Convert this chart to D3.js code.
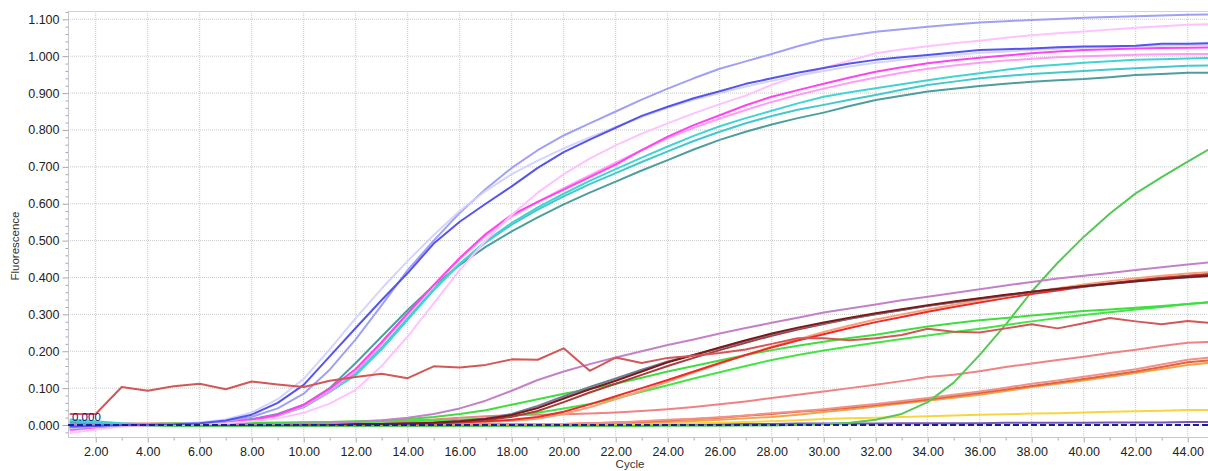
<!DOCTYPE html>
<html>
<head>
<meta charset="utf-8">
<script src="https://cdn.jsdelivr.net/npm/d3@7"></script>
<style>
  html, body { margin: 0; padding: 0; background: #fff; }
  svg { display: block; }
  .tick text { font-family: "Liberation Sans", Arial, sans-serif; }
</style>
</head>
<body>
<svg id="chart" width="1208" height="471"></svg>
<script>
// ---------------- DATA ----------------
const cycles = [1,2,3,4,5,6,7,8,9,10,11,12,13,14,15,16,17,18,19,20,21,22,23,24,25,26,27,28,29,30,31,32,33,34,35,36,37,38,39,40,41,42,43,44,45];

const yTicks = [0.0,0.1,0.2,0.3,0.4,0.5,0.6,0.7,0.8,0.9,1.0,1.1];
const xTicks = [2,4,6,8,10,12,14,16,18,20,22,24,26,28,30,32,34,36,38,40,42,44];
const xMinorTicks = [3,5,7,9,11,13,15,17,19,21,23,25,27,29,31,33,35,37,39,41,43,45];
const thresholdValue = 0.0;

// high plateau group
const lavender = [-0.010,-0.005,-0.001,0.000,0.002,0.005,0.010,0.022,0.045,0.085,0.150,0.232,0.325,0.420,0.500,0.575,0.640,0.697,0.745,0.785,0.818,0.850,0.882,0.912,0.940,0.966,0.986,1.006,1.027,1.045,1.056,1.066,1.073,1.080,1.086,1.091,1.095,1.098,1.101,1.104,1.106,1.108,1.110,1.112,1.113];
const paleLavender = [-0.008,-0.004,0.000,0.001,0.003,0.007,0.015,0.034,0.070,0.125,0.205,0.290,0.370,0.445,0.515,0.580,0.635,0.680,0.717,0.750,0.780,0.808,0.835,0.860,0.882,0.900,0.918,0.933,0.947,0.960,0.972,0.982,0.990,0.997,1.003,1.009,1.013,1.017,1.020,1.023,1.025,1.027,1.028,1.030,1.030];
const blue = [-0.005,-0.003,0.000,0.001,0.002,0.005,0.012,0.028,0.060,0.109,0.186,0.263,0.339,0.412,0.492,0.551,0.600,0.647,0.697,0.740,0.774,0.806,0.838,0.863,0.886,0.905,0.925,0.940,0.955,0.968,0.980,0.990,0.997,1.003,1.010,1.017,1.019,1.021,1.024,1.026,1.027,1.028,1.034,1.034,1.035];
const palePink = [-0.022,-0.012,-0.004,-0.001,0.000,0.002,0.005,0.010,0.018,0.033,0.058,0.095,0.160,0.240,0.330,0.420,0.500,0.570,0.630,0.680,0.722,0.758,0.790,0.818,0.845,0.870,0.893,0.922,0.946,0.968,0.988,1.008,1.018,1.027,1.035,1.042,1.050,1.057,1.062,1.067,1.072,1.077,1.081,1.085,1.087];
const magenta = [-0.012,-0.006,-0.002,0.000,0.001,0.003,0.007,0.014,0.028,0.055,0.098,0.152,0.225,0.303,0.380,0.453,0.518,0.570,0.605,0.638,0.672,0.706,0.745,0.782,0.813,0.840,0.867,0.890,0.908,0.925,0.942,0.958,0.970,0.981,0.989,0.996,1.002,1.008,1.013,1.017,1.019,1.021,1.022,1.023,1.024];
const lightPink = [-0.015,-0.008,-0.003,0.000,0.001,0.003,0.006,0.012,0.025,0.050,0.090,0.145,0.220,0.300,0.378,0.450,0.513,0.565,0.605,0.642,0.677,0.711,0.745,0.778,0.806,0.831,0.854,0.876,0.895,0.912,0.928,0.942,0.955,0.966,0.975,0.982,0.988,0.993,0.997,1.000,1.002,1.004,1.005,1.006,1.006];
const cyan = [0.015,0.010,0.005,0.002,0.002,0.003,0.006,0.012,0.025,0.050,0.090,0.135,0.205,0.285,0.365,0.437,0.498,0.548,0.590,0.627,0.662,0.694,0.725,0.755,0.784,0.810,0.832,0.852,0.872,0.890,0.902,0.913,0.924,0.935,0.945,0.954,0.963,0.972,0.977,0.982,0.986,0.990,0.992,0.994,0.995];
const cyan2 = [0.010,0.006,0.003,0.002,0.002,0.003,0.007,0.014,0.027,0.048,0.090,0.140,0.210,0.290,0.368,0.437,0.495,0.543,0.584,0.620,0.653,0.683,0.713,0.742,0.770,0.795,0.818,0.838,0.855,0.868,0.882,0.895,0.909,0.922,0.931,0.940,0.946,0.952,0.956,0.960,0.964,0.967,0.971,0.974,0.975];
const teal = [0.008,0.005,0.002,0.001,0.002,0.004,0.008,0.016,0.030,0.055,0.100,0.168,0.240,0.312,0.378,0.434,0.483,0.525,0.563,0.598,0.630,0.660,0.690,0.718,0.747,0.773,0.795,0.815,0.832,0.847,0.865,0.881,0.893,0.904,0.912,0.919,0.925,0.931,0.935,0.938,0.943,0.949,0.952,0.955,0.955];

// low / late group
const mauve = [0.000,0.000,0.000,0.000,0.001,0.001,0.002,0.002,0.003,0.004,0.005,0.008,0.013,0.020,0.030,0.045,0.066,0.093,0.122,0.145,0.165,0.183,0.200,0.217,0.232,0.248,0.263,0.277,0.291,0.305,0.316,0.327,0.338,0.348,0.358,0.368,0.378,0.388,0.397,0.405,0.412,0.420,0.428,0.435,0.442];
const maroon = [0.000,0.000,0.000,0.000,0.000,0.001,0.001,0.001,0.002,0.002,0.002,0.003,0.003,0.004,0.006,0.010,0.016,0.027,0.046,0.072,0.097,0.120,0.145,0.170,0.190,0.210,0.230,0.248,0.264,0.278,0.291,0.303,0.314,0.325,0.335,0.344,0.353,0.361,0.369,0.376,0.383,0.390,0.396,0.401,0.406];
const grayBlue = [0.000,0.000,0.000,0.000,0.000,0.001,0.001,0.001,0.002,0.002,0.002,0.003,0.003,0.004,0.007,0.011,0.018,0.030,0.052,0.078,0.103,0.126,0.150,0.172,0.190,0.208,0.228,0.246,0.262,0.276,0.289,0.301,0.312,0.323,0.333,0.342,0.351,0.360,0.368,0.375,0.382,0.389,0.395,0.400,0.404];
const brown = [0.000,0.000,0.000,0.000,0.000,0.000,0.001,0.001,0.001,0.002,0.002,0.002,0.003,0.004,0.005,0.008,0.013,0.022,0.038,0.062,0.088,0.112,0.136,0.160,0.182,0.203,0.223,0.242,0.259,0.274,0.288,0.300,0.312,0.323,0.333,0.343,0.352,0.361,0.369,0.377,0.384,0.391,0.398,0.404,0.409];
const red = [0.000,0.000,0.000,0.000,0.000,0.000,0.000,0.001,0.001,0.001,0.002,0.002,0.003,0.004,0.005,0.007,0.010,0.014,0.022,0.036,0.056,0.078,0.100,0.122,0.145,0.168,0.190,0.210,0.229,0.246,0.263,0.279,0.293,0.307,0.320,0.332,0.344,0.355,0.365,0.375,0.384,0.392,0.399,0.405,0.410];
const orangeSalmon = [0.000,0.000,0.000,0.000,0.000,0.000,0.000,0.001,0.001,0.001,0.002,0.002,0.003,0.004,0.005,0.006,0.008,0.011,0.017,0.030,0.048,0.070,0.093,0.117,0.142,0.166,0.190,0.212,0.232,0.252,0.270,0.286,0.300,0.313,0.326,0.338,0.350,0.361,0.371,0.381,0.390,0.398,0.405,0.411,0.415];
const green1 = [0.002,0.002,0.003,0.003,0.004,0.004,0.005,0.006,0.006,0.007,0.008,0.010,0.012,0.016,0.022,0.030,0.040,0.055,0.070,0.085,0.098,0.112,0.128,0.145,0.160,0.175,0.190,0.203,0.215,0.226,0.236,0.245,0.256,0.267,0.276,0.284,0.290,0.297,0.303,0.309,0.313,0.318,0.323,0.328,0.333];
const green2 = [0.001,0.002,0.002,0.003,0.003,0.004,0.004,0.005,0.005,0.006,0.007,0.008,0.009,0.010,0.012,0.014,0.018,0.024,0.033,0.045,0.057,0.072,0.090,0.108,0.126,0.143,0.160,0.176,0.190,0.202,0.213,0.223,0.233,0.243,0.252,0.261,0.271,0.281,0.290,0.298,0.306,0.313,0.320,0.328,0.334];
const lateGreen = [-0.004,-0.004,-0.003,-0.003,-0.003,-0.003,-0.003,-0.003,-0.003,-0.003,-0.003,-0.003,-0.003,-0.003,-0.003,-0.003,-0.003,-0.003,-0.003,-0.003,-0.003,-0.003,-0.003,-0.002,-0.002,-0.002,-0.001,-0.001,0.000,0.002,0.006,0.014,0.030,0.062,0.115,0.190,0.272,0.362,0.440,0.510,0.573,0.628,0.672,0.714,0.755];
const noisyRed = [0.030,0.030,0.103,0.093,0.105,0.112,0.097,0.118,0.110,0.103,0.120,0.130,0.139,0.127,0.159,0.156,0.163,0.178,0.177,0.208,0.147,0.183,0.168,0.182,0.188,0.195,0.205,0.220,0.235,0.235,0.230,0.235,0.244,0.261,0.253,0.251,0.262,0.273,0.262,0.276,0.290,0.281,0.273,0.282,0.276];
const salmon1 = [0.004,0.004,0.004,0.004,0.005,0.005,0.005,0.006,0.006,0.007,0.008,0.009,0.010,0.012,0.015,0.020,0.024,0.027,0.028,0.029,0.031,0.034,0.038,0.043,0.049,0.056,0.064,0.073,0.082,0.091,0.100,0.109,0.119,0.130,0.136,0.146,0.157,0.167,0.176,0.185,0.195,0.204,0.214,0.223,0.226];
const salmon2 = [0.001,0.001,0.001,0.001,0.001,0.001,0.001,0.001,0.001,0.002,0.002,0.002,0.002,0.002,0.002,0.002,0.002,0.002,0.003,0.003,0.005,0.007,0.010,0.014,0.017,0.021,0.026,0.032,0.037,0.043,0.050,0.057,0.065,0.073,0.082,0.091,0.101,0.112,0.121,0.131,0.141,0.151,0.164,0.177,0.184];
const orangeRed = [0.000,0.000,0.000,0.000,0.000,0.000,0.000,0.000,0.000,0.000,0.001,0.001,0.001,0.001,0.001,0.001,0.001,0.002,0.002,0.003,0.005,0.007,0.009,0.012,0.016,0.020,0.025,0.030,0.036,0.041,0.047,0.054,0.061,0.069,0.078,0.087,0.096,0.106,0.115,0.125,0.135,0.145,0.157,0.170,0.176];
const orange = [0.000,0.000,0.000,0.000,0.000,0.000,0.000,0.000,0.000,0.000,0.000,0.000,0.000,0.000,0.000,0.000,0.000,0.000,0.000,0.000,0.002,0.004,0.006,0.008,0.011,0.014,0.018,0.022,0.028,0.035,0.042,0.050,0.058,0.066,0.074,0.082,0.092,0.103,0.112,0.121,0.131,0.141,0.152,0.163,0.170];
const yellow = [0.000,0.000,0.000,0.000,0.000,0.000,0.000,0.000,0.000,0.000,0.000,0.000,0.000,0.000,0.000,0.000,0.001,0.001,0.001,0.001,0.002,0.002,0.003,0.004,0.005,0.006,0.008,0.010,0.013,0.016,0.018,0.020,0.022,0.024,0.026,0.028,0.029,0.031,0.032,0.034,0.036,0.037,0.039,0.041,0.041];
const flatPurple = [-0.006,-0.004,-0.002,0.000,0.001,0.001,0.001,0.001,0.002,0.002,0.002,0.002,0.002,0.002,0.002,0.002,0.002,0.002,0.002,0.002,0.002,0.002,0.002,0.003,0.003,0.003,0.003,0.003,0.004,0.004,0.004,0.004,0.005,0.005,0.005,0.005,0.006,0.006,0.006,0.006,0.007,0.007,0.007,0.008,0.008];

const seriesList = [
  { values: flatPurple,   color: "#7a58b0", width: 2,   opacity: 1 },
  { values: yellow,       color: "#f7d63c", width: 2,   opacity: 1 },
  { values: orange,       color: "#f3a24a", width: 2,   opacity: 1 },
  { values: orangeRed,    color: "#e2643e", width: 2,   opacity: 1 },
  { values: salmon2,      color: "#f2908a", width: 2,   opacity: 1 },
  { values: salmon1,      color: "#f08282", width: 2,   opacity: 1 },
  { values: lateGreen,    color: "#55c855", width: 2,   opacity: 1 },
  { values: green2,       color: "#44e444", width: 2,   opacity: 1 },
  { values: green1,       color: "#3ede3e", width: 2,   opacity: 1 },
  { values: orangeSalmon, color: "#f5a27a", width: 2,   opacity: 1 },
  { values: red,          color: "#ee2a2a", width: 2,   opacity: 1 },
  { values: brown,        color: "#a83c3c", width: 2,   opacity: 1 },
  { values: grayBlue,     color: "#6f7f9a", width: 2,   opacity: 1 },
  { values: maroon,       color: "#7c1a1a", width: 2,   opacity: 1 },
  { values: mauve,        color: "#c382c8", width: 2,   opacity: 1 },
  { values: teal,         color: "#4e9e9e", width: 2,   opacity: 1 },
  { values: cyan2,        color: "#44c8cc", width: 2,   opacity: 1 },
  { values: cyan,         color: "#40d4d2", width: 2,   opacity: 1 },
  { values: lightPink,    color: "#ff8cf6", width: 2,   opacity: 0.85 },
  { values: magenta,      color: "#ff44ee", width: 2,   opacity: 1 },
  { values: palePink,     color: "#ffc2ff", width: 2,   opacity: 1 },
  { values: lavender,     color: "#a0a0f4", width: 2,   opacity: 1 },
  { values: paleLavender, color: "#cfcfff", width: 2,   opacity: 0.9 },
  { values: blue,         color: "#5555ee", width: 2,   opacity: 1 },
  { values: noisyRed,     color: "#d45656", width: 2,   opacity: 1 }
];

// ---------------- LAYOUT ----------------
const svg = d3.select("#chart");
const plot = { left: 68, top: 11, right: 1208, bottom: 437 };

const x = d3.scaleLinear().domain([1, 45]).range([69.7, 69.7 + 44 * 26]);
const y = d3.scaleLinear().domain([-0.0325, 1.1225]).range([plot.bottom, plot.top]);

svg.append("defs").append("clipPath").attr("id", "clip")
  .append("rect")
  .attr("x", plot.left).attr("y", plot.top)
  .attr("width", plot.right - plot.left).attr("height", plot.bottom - plot.top);

// gridlines
const grid = svg.append("g");
grid.selectAll("line.h").data(yTicks).enter().append("line")
  .attr("x1", plot.left).attr("x2", plot.right)
  .attr("y1", d => y(d)).attr("y2", d => y(d))
  .attr("stroke", "#c9c9c9").attr("stroke-width", 1).attr("stroke-dasharray", "1,1");
grid.selectAll("line.v").data(xTicks).enter().append("line")
  .attr("y1", plot.top).attr("y2", plot.bottom)
  .attr("x1", d => x(d)).attr("x2", d => x(d))
  .attr("stroke", "#c9c9c9").attr("stroke-width", 1).attr("stroke-dasharray", "1,1");

// frame line on top
svg.append("line").attr("x1", plot.left).attr("x2", plot.right).attr("y1", plot.top + 0.5).attr("y2", plot.top + 0.5)
  .attr("stroke", "#cfd3dc").attr("stroke-width", 1);

// Y axis
const yMinor = d3.range(-0.02, 1.121, 0.02).filter(v => Math.abs(Math.round(v * 10) - v * 10) > 1e-6);
const yAxisMinor = d3.axisLeft(y).tickValues(yMinor).tickSize(3).tickFormat("");
const gyMinor = svg.append("g").attr("transform", `translate(${plot.left + 0.5},0)`).call(yAxisMinor);
gyMinor.select(".domain").remove();
gyMinor.selectAll("line").attr("stroke", "#a8a8a8");

const yAxis = d3.axisLeft(y).tickValues(yTicks).tickSize(6).tickPadding(3).tickFormat(d3.format(".3f"));
const gy = svg.append("g").attr("transform", `translate(${plot.left + 0.5},0)`).call(yAxis);
gy.select(".domain").attr("stroke", "#c4c8d0").attr("d", `M0,${plot.top}V${plot.bottom}`);
gy.selectAll(".tick line").attr("stroke", "#a8a8a8");
gy.selectAll(".tick text").attr("fill", "#222").style("font-size", "12.5px");

// X axis
const xAxisMinor = d3.axisBottom(x).tickValues(xMinorTicks).tickSize(3).tickFormat("");
const gxMinor = svg.append("g").attr("transform", `translate(0,${plot.bottom + 0.5})`).call(xAxisMinor);
gxMinor.select(".domain").remove();
gxMinor.selectAll("line").attr("stroke", "#a8a8a8");

const xAxis = d3.axisBottom(x).tickValues(xTicks).tickSize(5).tickPadding(5).tickFormat(d3.format(".2f"));
const gx = svg.append("g").attr("transform", `translate(0,${plot.bottom + 0.5})`).call(xAxis);
gx.select(".domain").attr("stroke", "#c4c8d0").attr("d", `M${plot.left},0H${plot.right}`);
gx.selectAll(".tick line").attr("stroke", "#a8a8a8");
gx.selectAll(".tick text").attr("fill", "#222").style("font-size", "12.5px");

// axis titles
svg.append("text").attr("x", 630).attr("y", 468).attr("text-anchor", "middle")
  .style("font-family", "'Liberation Sans', Arial, sans-serif").style("font-size", "11.5px").attr("fill", "#333")
  .text("Cycle");
svg.append("text").attr("transform", "translate(19,246) rotate(-90)").attr("text-anchor", "middle")
  .style("font-family", "'Liberation Sans', Arial, sans-serif").style("font-size", "11.5px").attr("fill", "#333")
  .text("Fluorescence");

// curves
const line = d3.line().x((d, i) => x(cycles[i])).y(d => y(d));
const curves = svg.append("g").attr("clip-path", "url(#clip)");
curves.selectAll("path").data(seriesList).enter().append("path")
  .attr("d", d => line(d.values))
  .attr("fill", "none")
  .attr("stroke", d => d.color)
  .attr("stroke-width", d => d.width)
  .attr("stroke-opacity", d => d.opacity)
  .attr("stroke-linejoin", "round");

// threshold
curves.append("line")
  .attr("x1", plot.left).attr("x2", plot.right)
  .attr("y1", y(thresholdValue)).attr("y2", y(thresholdValue))
  .attr("stroke", "#1c1c9c").attr("stroke-width", 2).attr("stroke-dasharray", "6,3");
svg.append("text").attr("x", 72).attr("y", 421)
  .style("font-family", "'Liberation Sans', Arial, sans-serif").style("font-size", "11.5px").attr("fill", "#14148c")
  .text(d3.format(".3f")(thresholdValue));
</script>
</body>
</html>
